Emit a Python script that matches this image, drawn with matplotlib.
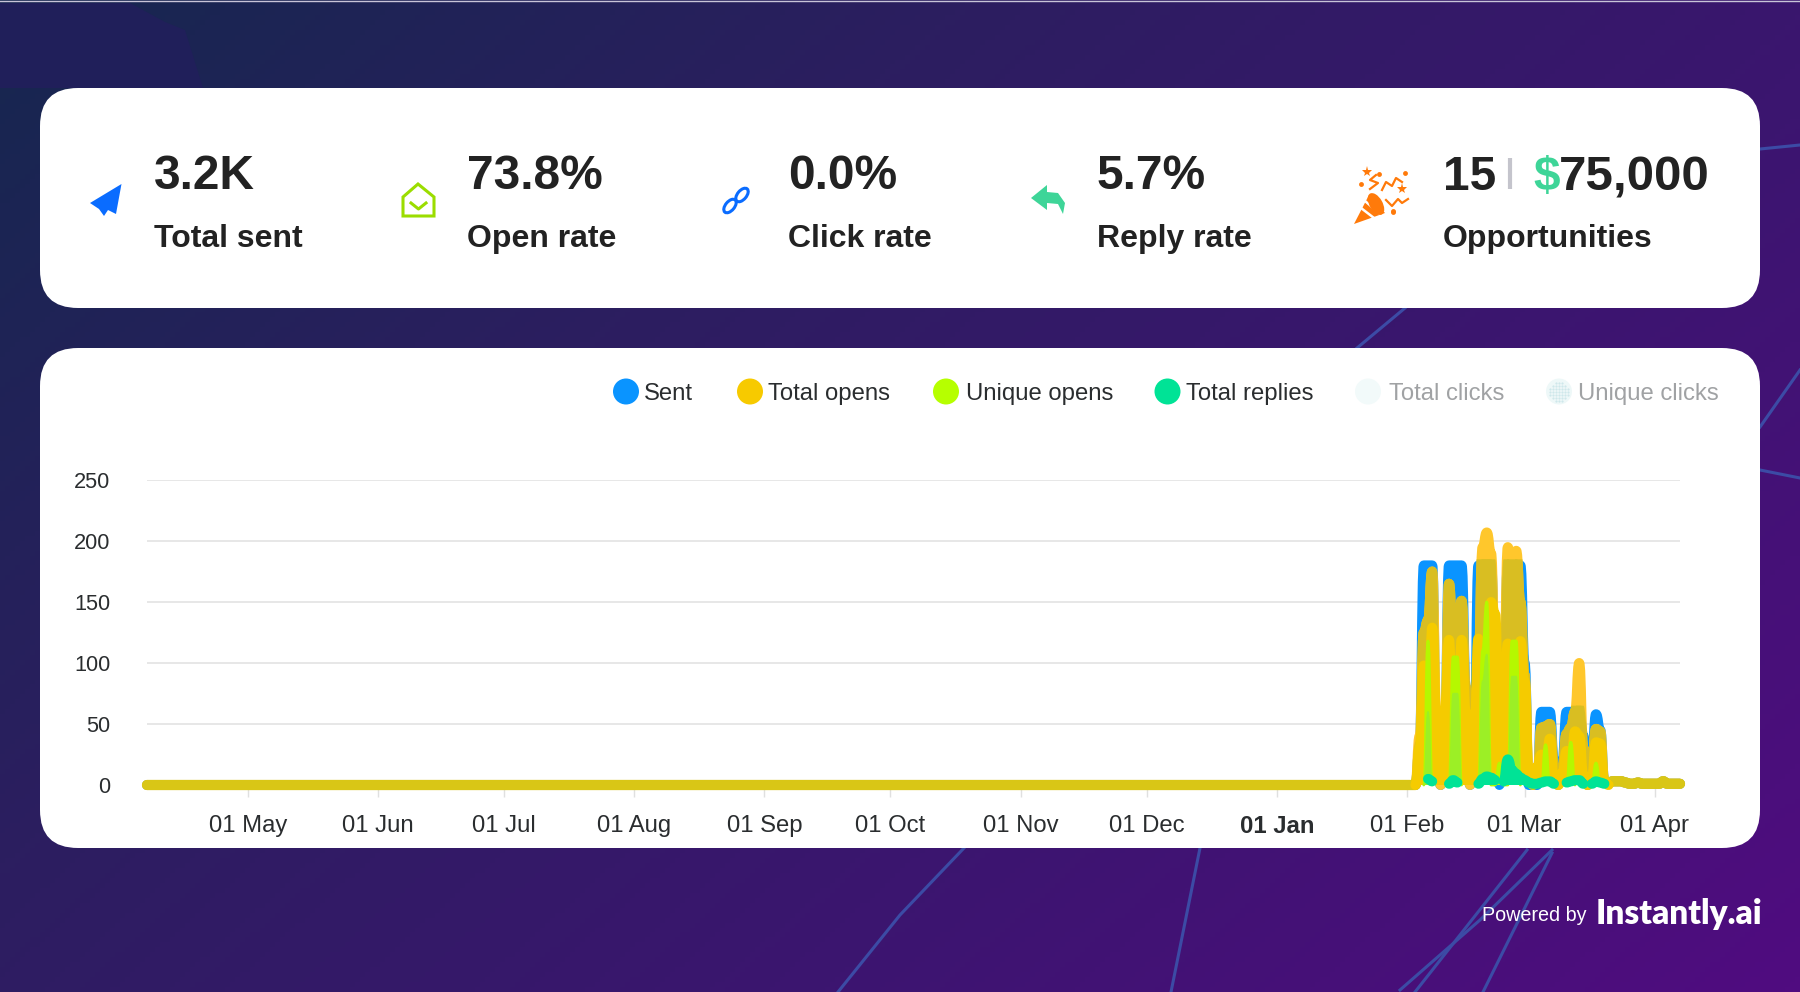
import numpy as np
import pandas as pd
import matplotlib
matplotlib.use('Agg')
import matplotlib.pyplot as plt
import matplotlib.dates as mdates
from matplotlib.colors import LinearSegmentedColormap
from matplotlib.patches import FancyBboxPatch, PathPatch, Polygon, Ellipse, Circle
from matplotlib.path import Path

plt.rcParams['font.family'] = ['Liberation Sans', 'DejaVu Sans']

# headline numbers
stat_values = ['3.2K', '73.8%', '0.0%', '5.7%']
stat_labels = ['Total sent', 'Open rate', 'Click rate', 'Reply rate']
opp_count = '15'
opp_amount = '75,000'
opp_label = 'Opportunities'

# legend
legend_names = ['Sent', 'Total opens', 'Unique opens', 'Total replies', 'Total clicks', 'Unique clicks']
legend_colors = ['#0A94FF', '#F7CA00', '#B6FF00', '#00E396', '#F2FAFA', '#EEF8F8']

# daily values from 01 Feb, everything before that is 0
start_date = '2022-04-07'
first_active = '2023-02-01'
end_date = '2023-04-07'
tail = [2, 3, 3, 3, 2, 1, 1, 2, 1, 1, 1, 1, 1, 3, 1, 1, 1, 1]
sent = [0, 0, 0, 30, 180, 180, 180, 30, 0, 40, 180, 180, 180, 180, 80, 0, 30,
        180, 180, 180, 180, 100, 0, 60, 180, 180, 180, 180, 100, 0, 0, 0,
        60, 60, 60, 20, 0, 20, 60, 60, 60, 60, 40, 0, 20, 58, 45, 3] + tail
opens_high = [0, 0, 0, 40, 125, 135, 175, 60, 0, 40, 165, 110, 115, 151, 80, 0, 30,
              100, 195, 207, 190, 100, 15, 70, 195, 140, 192, 150, 90, 10, 5, 5,
              47, 48, 50, 15, 0, 15, 42, 47, 60, 100, 30, 0, 15, 46, 44, 3] + tail
total_opens = [0, 0, 0, 30, 98, 12, 129, 60, 5, 60, 119, 10, 10, 119, 60, 5, 40,
               120, 8, 8, 150, 140, 16, 60, 116, 8, 8, 118, 85, 5, 0, 15,
               25, 5, 38, 5, 0, 10, 28, 10, 44, 40, 8, 0, 5, 35, 34, 3]
unique_opens = [0, 0, 0, 0, 0, 118, 0, 0, 0, 0, 0, 105, 105, 0, 0, 0, 0,
                0, 110, 150, 0, 0, 18, 0, 0, 118, 118, 0, 0, 0, 0, 0,
                0, 33, 0, 0, 0, 0, 0, 35, 0, 0, 0, 0, 0, 18, 0, 0]
unique_inner = [0, 0, 0, 0, 0, 60, 0, 0, 0, 0, 0, 75, 75, 0, 0, 0, 0,
                0, 85, 107, 0, 0, 0, 0, 0, 89, 89, 0, 0, 0, 0, 0,
                0, 0, 0, 0, 0, 0, 0, 0, 0, 0, 0, 0, 0, 0, 0, 0]
replies = [0, 0, 0, 0, 0, 5, 3, 0, 0, 0, 1, 4, 2, 0, 0, 0, 0,
           1, 5, 7, 6, 4, 0, 3, 21, 12, 9, 6, 4, 2, 1, 1,
           2, 3, 3, 1, 0, 0, 2, 3, 4, 4, 1, 0, 1, 3, 2, 1]

dates = pd.date_range(start_date, end_date)
n_before = len(pd.date_range(start_date, first_active)) - 1
x_days = mdates.date2num(dates)


def full_series(vals):
    out = np.zeros(len(dates))
    out[n_before:n_before + len(vals)] = vals
    return out


def curve(x, y):
    # flat at each daily point
    verts = [(x[0], y[0])]
    codes = [Path.MOVETO]
    for i in range(1, len(x)):
        mid = (x[i - 1] + x[i]) / 2
        verts += [(mid, y[i - 1]), (mid, y[i]), (x[i], y[i])]
        codes += [Path.CURVE4] * 3
    return verts, codes


def thick_area(ax, x, y, color, lw=7.2, z=3, filled=True, clip=None):
    # thick stroke, filled down to 0 underneath
    verts, codes = curve(x, y)
    parts = []
    if filled:
        area = verts + [(x[-1], 0), (x[0], 0), (x[0], y[0])]
        area_codes = codes + [Path.LINETO, Path.LINETO, Path.CLOSEPOLY]
        parts.append(PathPatch(Path(area, area_codes), fc=color, ec='none', clip_on=False, zorder=z))
    parts.append(PathPatch(Path(verts, codes), fill=False, edgecolor=color, lw=lw, capstyle='round',
                           joinstyle='round', clip_on=False, zorder=z))
    for p in parts:
        ax.add_patch(p)
        if clip is not None:
            p.set_clip_on(True)
            p.set_clip_path(clip, transform=ax.transData)


def active_runs(ax, y, color, z=3, extend=True, lw=7.2):
    # only draw stretches that leave the baseline
    on = y > 0
    keep = on
    if extend:
        keep = on | np.r_[on[1:], False] | np.r_[False, on[:-1]]
    idx = np.flatnonzero(keep)
    for run in np.split(idx, np.flatnonzero(np.diff(idx) > 1) + 1):
        thick_area(ax, x_days[run], y[run], color, z=z, lw=lw)


fig = plt.figure(figsize=(18, 9.92), dpi=100)
bg = fig.add_axes([0, 0, 1, 1], zorder=0)
bg.axis('off')

# background
yy, xx = np.mgrid[0:1:200j, 0:1:360j]
cmap = LinearSegmentedColormap.from_list('bg', ['#16274F', '#2C1E60', '#3C1570', '#500C80'])
bg.imshow(0.62 * xx + 0.38 * yy, extent=[0, 1800, 992, 0], aspect='auto', cmap=cmap, vmin=0, vmax=1, zorder=0)
bg.add_patch(Polygon([(0, 3), (130, 3), (165, 22), (185, 30), (203, 88), (0, 88)], color='#201F5A', lw=0, zorder=0.5))
bg.plot([0, 1800], [0.5, 0.5], color='#C8C4D8', lw=1, zorder=0.6)
bg_lines = [[(1760, 149), (1800, 145)], [(1357, 348), (1405, 308)], [(1760, 427), (1800, 370)],
            [(1760, 470), (1800, 478)], [(838, 992), (900, 915), (964, 848)], [(1171, 992), (1200, 848)],
            [(1400, 990), (1480, 920), (1552, 850)], [(1415, 992), (1527, 850)], [(1483, 992), (1552, 853)]]
for pts in bg_lines:
    bg.plot(*zip(*pts), color='#3C4BA5', lw=2.2, zorder=0.6)
bg.set_xlim(0, 1800)
bg.set_ylim(992, 0)

# cards
for (x0, y0, x1, y1) in [(40, 88, 1760, 308), (40, 348, 1760, 848)]:
    bg.add_patch(FancyBboxPatch((x0 + 38, y0 + 38), x1 - x0 - 76, y1 - y0 - 76,
                                boxstyle='round,pad=38,rounding_size=38', fc='white', ec='none', zorder=1))

# stats row
dark = '#222222'
for val, lab, tx in zip(stat_values, stat_labels, [154, 467, 788, 1097]):
    bg.text(tx, 189, val, fontsize=34.5, fontweight='bold', color=dark, va='baseline', zorder=3)
    bg.text(tx, 247, lab, fontsize=23, fontweight='bold', color=dark, va='baseline', zorder=3)
bg.text(1443, 190, opp_count, fontsize=34.5, fontweight='bold', color=dark, zorder=3)
bg.plot([1510, 1510], [158, 189], color='#C4C4CC', lw=3, solid_capstyle='butt', zorder=3)
bg.text(1533, 190, '$', fontsize=34.5, fontweight='bold', color='#3ED598', zorder=3)
bg.text(1559, 190, opp_amount, fontsize=35.5, fontweight='bold', color=dark, zorder=3)
bg.text(1443, 247, opp_label, fontsize=23, fontweight='bold', color=dark, zorder=3)

# icons
bg.add_patch(Polygon([(121.5, 184), (90, 203), (99, 209), (104, 216), (108, 210), (116, 214)], color='#0A6CFF', lw=0, zorder=3))
bg.add_patch(Polygon([(418, 184), (434, 197), (434, 216), (403, 216), (403, 197)], fc='white', ec='#9BDD00', lw=2.2, zorder=3))
bg.plot([411, 418.5, 426], [203, 209, 203], color='#9BDD00', lw=2.2, zorder=3)
for cx, cy in [(742, 195), (730, 206)]:
    bg.add_patch(Ellipse((cx, cy), 16, 9, angle=-50, fc='none', ec='#0A6CFF', lw=2.2, zorder=3))
bg.add_patch(Polygon([(1031, 198), (1047, 185), (1047, 192), (1058, 193), (1065, 203), (1063, 214),
                      (1058, 204), (1047, 203), (1047, 210)], color='#3ED598', lw=0, zorder=3))
orange = '#FF7A0A'
bg.add_patch(Polygon([(1354, 224), (1369, 195), (1385, 213)], color=orange, lw=0, zorder=3))
for a, b in [((1361, 208), (1374, 218)), ((1365, 201), (1379, 213))]:
    bg.plot(*zip(a, b), color='white', lw=1.8, zorder=3.1)
bg.add_patch(Ellipse((1376, 204), 13, 24, angle=-30, color=orange, lw=0, zorder=3.2))
confetti = [[(1370, 189), (1378, 183), (1370, 180), (1376, 175)], [(1382, 190), (1386, 182), (1392, 186), (1396, 178), (1402, 182)],
            [(1386, 200), (1392, 206), (1398, 199), (1402, 203), (1408, 199)]]
for pts in confetti:
    bg.plot(*zip(*pts), color=orange, lw=1.6, zorder=3)
bg.plot([1367, 1402], [172, 189], ls='none', marker='*', ms=8, color=orange, mew=0, zorder=3)
bg.plot([1361, 1379, 1393, 1405, 1393], [184, 174, 211, 173, 212], ls='none', marker='o', ms=3.5, color=orange, mew=0, zorder=3)

# legend
circle_x = [626, 750, 946, 1167.5, 1368, 1559]
label_x = [644, 768, 965.5, 1186, 1389, 1578.5]
for i, name in enumerate(legend_names):
    bg.add_patch(Circle((circle_x[i], 391.5), 13, fc=legend_colors[i], ec='none', zorder=3))
    bg.text(label_x[i], 391.5, name, fontsize=17.2, color='#2A2D2F' if i < 4 else '#A0A2A4',
            va='center_baseline', zorder=3)
for dx in np.arange(-9, 10, 3):
    for dy in np.arange(-9, 10, 3):
        if dx ** 2 + dy ** 2 < 100:
            bg.plot(1559 + dx, 391.5 + dy, '.', ms=1, color='#C8E4E8', zorder=3.1)

# footer
bg.text(1482, 921, 'Powered by', fontsize=14.2, color='white', va='baseline', zorder=3)
bg.text(1596, 924, 'Instantly.ai', fontsize=24, fontweight='heavy', family='Lato', color='white', va='baseline', zorder=3)

# chart
ax = fig.add_axes([147 / 1800, 1 - 785 / 992, (1680 - 147) / 1800, (785 - 480) / 992], zorder=2)
ax.patch.set_alpha(0)
ax.set_xlim(x_days[0], x_days[-1])
ax.set_ylim(0, 250)
ax.set_axisbelow(True)
for s in ax.spines.values():
    s.set_visible(False)
ax.set_yticks([0, 50, 100, 150, 200, 250])
ax.grid(axis='y', color='#E0E0E0', lw=1.1)
ax.yaxis.get_gridlines()[0].set_visible(False)
ax.tick_params(axis='y', length=0, pad=26.5, labelsize=15.7, labelcolor='#2A2D2F')

month_ticks = pd.date_range('2022-05-01', '2023-04-01', freq='MS')
ax.set_xticks(mdates.date2num(month_ticks), [d.strftime('%d %b') for d in month_ticks])
ax.tick_params(axis='x', length=8.6, width=1, color='#E0E0E0', pad=13, labelsize=17.2, labelcolor='#2A2D2F')
for lab, d in zip(ax.get_xticklabels(), month_ticks):
    if d.month == 1:
        lab.set_fontweight('bold')

y_sent = full_series(sent)
y_high = full_series(opens_high)

thick_area(ax, x_days, y_sent, legend_colors[0], z=3)
thick_area(ax, x_days, y_high, '#FFC72C', z=3.2)

# where opens sit on top of the blue the colours mix to ochre
wide = np.maximum.reduce([y_sent, np.r_[y_sent[1:], 0], np.r_[0, y_sent[:-1]]]) + 5
mv, mc = curve(x_days, wide)
mask = Path([(x_days[0] - 3, -10), (x_days[0] - 3, wide[0])] + mv + [(x_days[-1] + 3, wide[-1]), (x_days[-1] + 3, -10), (x_days[0] - 3, -10)],
            [Path.MOVETO, Path.LINETO, Path.LINETO] + mc[1:] + [Path.LINETO, Path.LINETO, Path.CLOSEPOLY])
thick_area(ax, x_days, y_high, '#D9BE22', z=3.25, clip=mask)

# flat stretches along the bottom are a yellower ochre
quiet = np.flatnonzero(y_high <= 5)
for run in np.split(quiet, np.flatnonzero(np.diff(quiet) > 1) + 1):
    if len(run) > 1:
        thick_area(ax, x_days[run], y_high[run], '#D9C616', z=3.28, lw=7.4, filled=False)

active_runs(ax, full_series(total_opens), '#F5CB00', z=3.3)
active_runs(ax, full_series(unique_opens), '#B5F800', z=3.4, lw=2)
active_runs(ax, full_series(unique_inner), '#9CEF26', z=3.45, lw=1)
active_runs(ax, full_series(replies), legend_colors[3], z=3.5, extend=False)

fig.savefig('out.png', dpi=100)
